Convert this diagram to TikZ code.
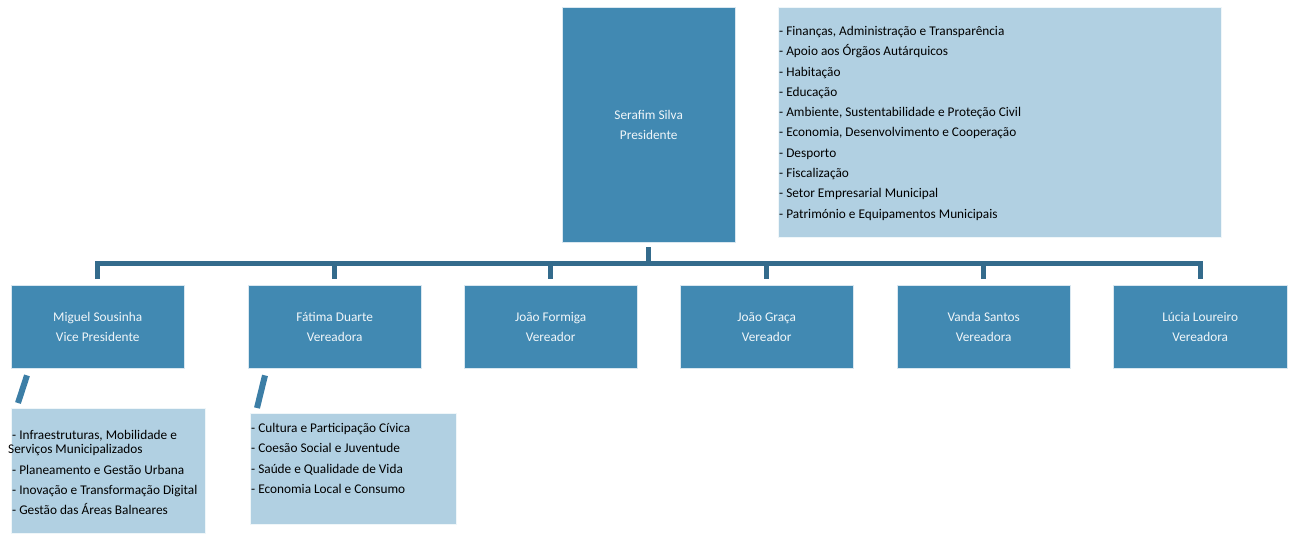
\documentclass[tikz,border=0pt]{standalone}
\usepackage{fontspec}
\setmainfont{Carlito}
\usepackage{tikz}
\definecolor{azulcargo}{RGB}{65,137,178}
\definecolor{azulpelouro}{RGB}{177,208,226}
\definecolor{azulbarra}{RGB}{52,107,140}
\definecolor{azultraco}{RGB}{60,126,166}
\tikzset{
	posto/.style={
		rectangle,
		fill=azulcargo,
		draw=white!80!azulcargo, thin,
		text=white!92!azulcargo,
		align=center,
		anchor=north west,
		inner sep=0pt,
		minimum width=173pt,
		minimum height=83pt,
		font={\fontsize{13.3pt}{20pt}\selectfont}
	},
	lista/.style={
		rectangle,
		fill=azulpelouro,
		draw=white!80!azulpelouro, thin,
		anchor=north west,
		inner sep=0pt
	},
	listatexto/.style={
		align=left,
		anchor=north west,
		inner sep=0pt,
		% text=black!90,
		font={\fontsize{13.3pt}{20.3pt}\selectfont}
	},
	barra/.style={draw=azulbarra, line width=5pt},
	traco/.style={draw=azultraco, line width=6pt},
}
\begin{document}
\begin{tikzpicture}[x=1pt,y=-1pt]
	\useasboundingbox (0,0) rectangle (1292,533);
	% presidente e pelouros
	\node[posto, minimum height=235pt] (serafim) at (562,7) {Serafim Silva\\Presidente};
	\node[lista, minimum width=443pt, minimum height=230pt] (pelserafim) at (778,7) {};
	\node[listatexto] (txtserafim) at (779,26)
		{- Finanças, Administração e Transparência\\
		- Apoio aos Órgãos Autárquicos\\
		- Habitação\\
		- Educação\\
		- Ambiente, Sustentabilidade e Proteção Civil\\
		- Economia, Desenvolvimento e Cooperação\\
		- Desporto\\
		- Fiscalização\\
		- Setor Empresarial Municipal\\
		- Património e Equipamentos Municipais};
	% vereadores
	\node[posto] (miguel)  at (11,285)   {Miguel Sousinha\\Vice Presidente};
	\node[posto] (fatima)  at (248,285)  {Fátima Duarte\\Vereadora};
	\node[posto] (formiga) at (464,285)  {João Formiga\\Vereador};
	\node[posto] (graca)   at (680,285)  {João Graça\\Vereador};
	\node[posto] (vanda)   at (897,285)  {Vanda Santos\\Vereadora};
	\node[posto, minimum width=174pt] (lucia) at (1113,285) {Lúcia Loureiro\\Vereadora};
	% pelouros dos vereadores
	\node[lista, minimum width=194pt, minimum height=125pt] (pelmiguel) at (11,408) {};
	\node[listatexto] (txtmiguel) at (12,430)
		{- Infraestruturas, Mobilidade e\\[-6pt]
		\hspace*{-4pt}Serviços Municipalizados\\
		- Planeamento e Gestão Urbana\\
		- Inovação e Transformação Digital\\
		- Gestão das Áreas Balneares};
	\node[lista, minimum width=206pt, minimum height=111pt] (pelfatima) at (250,413) {};
	\node[listatexto] (txtfatima) at (251,423)
		{- Cultura e Participação Cívica\\
		- Coesão Social e Juventude\\
		- Saúde e Qualidade de Vida\\
		- Economia Local e Consumo};
	% ligacoes
	\coordinate (bus) at (0,263);
	\draw[barra] ([yshift=-5pt]serafim.south) -- (serafim.south |- bus);
	\draw[barra] ([yshift=6pt]miguel.north) -- (miguel.north |- bus) -- (lucia.north |- bus) -- ([yshift=6pt]lucia.north);
	\foreach \v in {fatima,formiga,graca,vanda}
		\draw[barra] (\v.north |- bus) -- ([yshift=6pt]\v.north);
	\draw[traco] ([xshift=16pt,yshift=-7pt]miguel.south west) -- ([xshift=7pt,yshift=5pt]pelmiguel.north west);
	\draw[traco] ([xshift=17pt,yshift=-7pt]fatima.south west) -- ([xshift=7pt,yshift=5pt]pelfatima.north west);
\end{tikzpicture}
\end{document}
